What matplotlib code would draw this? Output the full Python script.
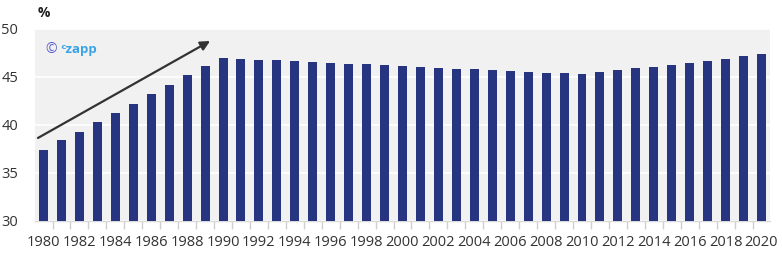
import matplotlib
matplotlib.use("Agg")
import matplotlib.pyplot as plt
from matplotlib.ticker import FixedLocator

years = list(range(1980, 2021))
values = [37.4, 38.4, 39.3, 40.3, 41.25, 42.2, 43.2, 44.2, 45.2, 46.15,
          47.0, 46.9, 46.8, 46.8, 46.7, 46.55, 46.45, 46.35, 46.35, 46.25,
          46.15, 46.05, 45.95, 45.85, 45.85, 45.75, 45.6, 45.5, 45.4, 45.4,
          45.3, 45.5, 45.75, 45.95, 46.05, 46.25, 46.45, 46.65, 46.9, 47.2,
          47.4]
y_ticks = [30, 35, 40, 45, 50]

plt.rcParams['font.family'] = ['Open Sans', 'DejaVu Sans']

W, H = 782, 259
fig = plt.figure(figsize=(W / 100, H / 100), dpi=100)
ax = fig.add_axes([35 / W, 1 - 221 / H, 735 / W, 192 / H])

ax.set_facecolor('#f1f1f1')
x = list(range(len(years)))
ax.bar(x, values, width=0.5, color='#27347f', zorder=3, bottom=0)

ax.set_ylim(30, 50)
ax.set_xlim(-0.475, len(years) - 0.525)
ax.set_yticks(y_ticks)
ax.set_yticklabels([str(t) for t in y_ticks])
ax.yaxis.grid(True, color='white', linewidth=1.2, zorder=1)
ax.set_axisbelow(True)

ax.set_xticks(x[::2])
ax.set_xticklabels([str(y) for y in years[::2]])
ax.xaxis.set_minor_locator(FixedLocator([i - 0.5 for i in range(len(years) + 1)]))
ax.tick_params(axis='x', which='major', length=0, pad=10, labelsize=10.5, labelcolor='#333333')
ax.tick_params(axis='x', which='minor', length=6, color='#d0d0d0', width=1)
ax.tick_params(axis='y', length=0, pad=12, labelsize=10.5, labelcolor='#333333')

for s in ['top', 'right', 'left']:
    ax.spines[s].set_visible(False)
ax.spines['bottom'].set_color('#d9d9d9')
ax.spines['bottom'].set_linewidth(1)

# arrow
ax.annotate('', xy=(9.28, 48.75), xytext=(-0.31, 38.65),
            arrowprops=dict(arrowstyle='-|>', color='#333333', lw=1.6,
                            mutation_scale=14, shrinkA=0, shrinkB=0),
            zorder=5)

# "%" label
fig.text(38 / W, 1 - 13 / H, '%', fontsize=10, fontweight='bold', color='#222222',
         va='center', ha='left')

# watermark
fig.text(45 / W, 1 - 49 / H, '©', fontsize=10, color='#5a5fc8', va='center', ha='left')
fig.text(60 / W, 1 - 49 / H, 'ᶜzapp', fontsize=9.5, color='#3aa3e6', fontweight='bold',
         va='center', ha='left', family=['Open Sans', 'DejaVu Sans'])

fig.savefig('out.png', dpi=100)
